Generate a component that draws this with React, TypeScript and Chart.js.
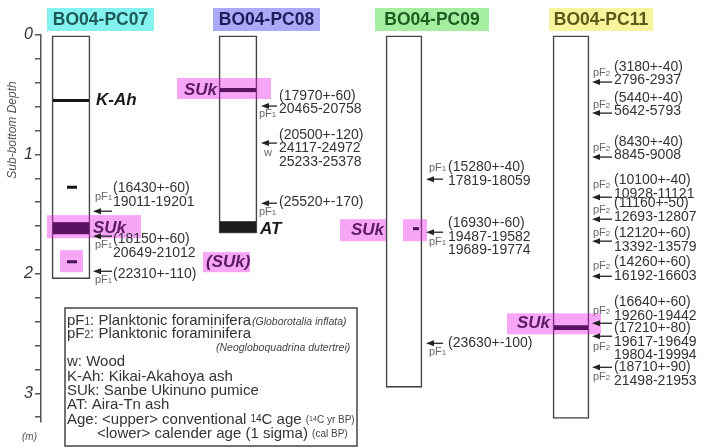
import React, { useEffect, useRef } from 'react';
import { Chart, registerables } from 'chart.js';

Chart.register(...registerables);

// ---------------- DATA ----------------
const coreNames = ['BO04-PC07', 'BO04-PC08', 'BO04-PC09', 'BO04-PC11'];
const coreBottomDepth = [2.04, 1.66, 2.95, 3.21];

const depthTickValues = [0, 0.2, 0.4, 0.6, 0.8, 1, 1.2, 1.4, 1.6, 1.8, 2, 2.2, 2.4, 2.6, 2.8, 3, 3.2];
const labelledDepths = [0, 1, 2, 3];
const depthLabels = ['0', '1', '2', '3'];

// tephra layers / marker dashes
const layerCore = [0, 0, 0, 0, 1, 1, 2, 3];
const layerTop = [0.536, 1.262, 1.567, 1.886, 0.444, 1.559, 1.609, 2.43];
const layerBottom = [0.561, 1.287, 1.668, 1.911, 0.478, 1.651, 1.634, 2.47];
const layerName = ['K-Ah', '', 'SUk', '', 'SUk', 'AT', '', 'SUk'];

// dated samples
const sampleCore = [0, 0, 0, 1, 1, 1, 2, 2, 2, 3, 3, 3, 3, 3, 3, 3, 3, 3, 3];
const sampleDepth = [1.475, 1.684, 1.978, 0.595, 0.905, 1.408, 1.207, 1.651, 2.581, 0.394, 0.654, 1.022, 1.358, 1.542, 1.726, 2.02, 2.413, 2.522, 2.782];
const sampleMaterial = ['pF1', 'pF1', 'pF1', 'pF1', 'w', 'pF1', 'pF1', 'pF1', 'pF1', 'pF2', 'pF2', 'pF2', 'pF2', 'pF2', 'pF2', 'pF2', 'pF2', 'pF2', 'pF2'];
const sampleC14Age = ['(16430+-60)', '(18150+-60)', '(22310+-110)', '(17970+-60)', '(20500+-120)', '(25520+-170)', '(15280+-40)', '(16930+-60)', '(23630+-100)', '(3180+-40)', '(5440+-40)', '(8430+-40)', '(10100+-40)', '(11160+-50)', '(12120+-60)', '(14260+-60)', '(16640+-60)', '(17210+-80)', '(18710+-90)'];
const sampleCalAge = [
  ['19011-19201'], ['20649-21012'], [],
  ['20465-20758'], ['24117-24972', '25233-25378'], [],
  ['17819-18059'], ['19487-19582', '19689-19774'], [],
  ['2796-2937'], ['5642-5793'], ['8845-9008'], ['10928-11121'], ['12693-12807'], ['13392-13579'], ['16192-16603'], ['19260-19442'], ['19617-19649', '19804-19994'], ['21498-21953'],
];

// ---------------- LAYOUT / STYLE ----------------
const FONT = '"Liberation Sans", Arial, sans-serif';
const coreCenterX = [71, 238, 404, 571];
const coreWidth = [38, 38, 36, 36];
const titleBox = [[47, 154], [213, 320], [375, 489], [549, 653]];
const titleFill = ['#84f3ef', '#aaaaf7', '#a4efa2', '#f6f59e'];
const titleInk = ['#1d5a5a', '#1d1d5c', '#1f5c1f', '#5a5a16'];

const layerSpan: (number[] | null)[] = [null, [67, 77], null, [67, 77], null, null, [413, 419], null];
const layerColor = ['#151515', '#151515', '#5a1262', '#4a1050', '#5a1262', '#1c1c1c', '#4a1050', '#5a1262'];
const layerLabelPos: (number[] | null)[] = [[96, 0, 0], null, [93, 0, 0], null, [217, 0, 1], [260, 3, 0], null, [550, -4, 1]];
const layerLabelInk = ['#1a1a1a', '', '#5a1a66', '', '#5a1a66', '#1a1a1a', '', '#5a1a66'];

const highlightRects = [
  [47, 141, 1.508, 1.701], [60, 83, 1.802, 1.986], [203, 250, 1.818, 1.986],
  [177, 271, 0.36, 0.536], [340, 386, 1.542, 1.726], [403, 427, 1.542, 1.726], [507, 601, 2.33, 2.506],
];
const extraLabels = [{ text: '(SUk)', x: 206, d: 1.902 }, { text: 'SUk', x: 351, d: 1.634 }];

const arrowHead = [93, 261, 426, 592];
const arrowTail = [112, 277, 443, 612];
const textX = [113, 279, 448, 614];
const matX = [95, 259, 429, 593];
const textDy = [-23, 3, 3, -10, -8, -1, -12, -9, 0, -15, -15, -15, -17, -16, -8, -14, -21, -8, 0];
const matDy = [-14, 9, 9, 8, 10, 9, -11, 10, 9, -9, -8, -9, -12, -9, -8, -10, -12, 11, 10];
const LINE = 13.5;

const diagramPlugin = {
  id: 'coreDiagram',
  afterDatasetsDraw(chart: any) {
    const ctx = chart.ctx as CanvasRenderingContext2D;
    const xs = chart.scales.x;
    const ys = chart.scales.y;
    const X = (v: number) => xs.getPixelForValue(v);
    const Y = (d: number) => ys.getPixelForValue(d);
    ctx.save();
    ctx.textBaseline = 'middle';

    // pink highlights
    ctx.fillStyle = 'rgba(235,20,235,0.38)';
    highlightRects.forEach(([x0, x1, d0, d1]) => {
      ctx.fillRect(X(x0), Y(d0), X(x1) - X(x0), Y(d1) - Y(d0));
    });

    // layers
    layerCore.forEach((c, i) => {
      const span = layerSpan[i];
      const x0 = span ? span[0] : coreCenterX[c] - coreWidth[c] / 2 + 1;
      const x1 = span ? span[1] : coreCenterX[c] + coreWidth[c] / 2 - 1;
      ctx.fillStyle = layerColor[i];
      const y0 = Y(layerTop[i]);
      const y1 = Y(layerBottom[i]);
      ctx.fillRect(X(x0), y0, X(x1) - X(x0), Math.max(2.5, y1 - y0));
      const lp = layerLabelPos[i];
      if (lp && layerName[i]) {
        ctx.font = `italic bold 17px ${FONT}`;
        ctx.fillStyle = layerLabelInk[i];
        ctx.textAlign = lp[2] ? 'right' : 'left';
        ctx.fillText(layerName[i], X(lp[0]), (y0 + y1) / 2 + lp[1]);
      }
    });
    ctx.textAlign = 'left';
    extraLabels.forEach((l) => {
      ctx.font = `italic bold 17px ${FONT}`;
      ctx.fillStyle = '#5a1a66';
      ctx.fillText(l.text, X(l.x), Y(l.d));
    });

    // samples
    sampleCore.forEach((c, i) => {
      const y = Y(sampleDepth[i]);
      const hx = X(arrowHead[c]);
      const tx = X(arrowTail[c]);
      ctx.strokeStyle = '#222';
      ctx.fillStyle = '#222';
      ctx.lineWidth = 1.3;
      ctx.beginPath();
      ctx.moveTo(hx + 5, y);
      ctx.lineTo(tx, y);
      ctx.stroke();
      ctx.beginPath();
      ctx.moveTo(hx, y);
      ctx.lineTo(hx + 8, y - 3);
      ctx.lineTo(hx + 8, y + 3);
      ctx.closePath();
      ctx.fill();

      // texts
      ctx.fillStyle = '#333';
      ctx.font = `14px ${FONT}`;
      const lines = [sampleC14Age[i], ...sampleCalAge[i]];
      lines.forEach((t, k) => {
        ctx.fillText(t, X(textX[c]), y + textDy[i] + k * LINE);
      });
      // material
      const m = sampleMaterial[i];
      ctx.fillStyle = '#666';
      const my = y + matDy[i];
      if (m === 'w') {
        ctx.font = `11px ${FONT}`;
        ctx.fillText('w', X(matX[c] + 5), my);
      } else {
        ctx.font = `11px ${FONT}`;
        ctx.fillText('pF', X(matX[c]), my);
        const w = ctx.measureText('pF').width;
        ctx.font = `8px ${FONT}`;
        ctx.fillText(m.slice(2), X(matX[c]) + w, my + 1);
      }
    });
    ctx.restore();
  },
  afterDraw(chart: any) {
    const ctx = chart.ctx as CanvasRenderingContext2D;
    const xs = chart.scales.x;
    const X = (v: number) => xs.getPixelForValue(v);
    ctx.save();
    ctx.textBaseline = 'middle';
    // core titles
    coreNames.forEach((n, i) => {
      const [a, b] = titleBox[i];
      ctx.fillStyle = titleFill[i];
      ctx.fillRect(X(a), 8, X(b) - X(a), 23);
      ctx.fillStyle = titleInk[i];
      ctx.font = `bold 17.5px ${FONT}`;
      ctx.textAlign = 'center';
      ctx.fillText(n, (X(a) + X(b)) / 2, 20);
    });
    ctx.textAlign = 'left';

    // axis title
    ctx.save();
    ctx.translate(13, 130);
    ctx.rotate(-Math.PI / 2);
    ctx.textAlign = 'center';
    ctx.fillStyle = '#555';
    ctx.font = `italic 12px ${FONT}`;
    ctx.fillText('Sub-bottom Depth', 0, 0);
    ctx.restore();
    ctx.fillStyle = '#555';
    ctx.font = `italic 10px ${FONT}`;
    ctx.textAlign = 'left';
    ctx.fillText('(m)', 22, 437);

    // legend box
    ctx.strokeStyle = '#444';
    ctx.lineWidth = 1.5;
    ctx.strokeRect(65, 308, 292, 138);
    const big = `15px ${FONT}`;
    const sub = `10px ${FONT}`;
    const small = `italic 10.5px ${FONT}`;
    const rich = (x: number, y: number, segs: [string, string, string?, number?][]) => {
      let cx = x;
      segs.forEach(([t, f, col, dy]) => {
        ctx.font = f;
        ctx.fillStyle = col || '#333';
        ctx.fillText(t, cx, y + (dy || 0));
        cx += ctx.measureText(t).width;
      });
    };
    rich(67, 321, [['pF', big], ['1', sub, undefined, 1], [': Planktonic foraminifera', big]]);
    rich(252, 322, [['(Globorotalia inflata)', small, '#444']]);
    rich(67, 334, [['pF', big], ['2', sub, undefined, 1], [': Planktonic foraminifera', big]]);
    rich(216, 348, [['(Neogloboquadrina dutertrei)', small, '#444']]);
    rich(67, 362, [['w: Wood', big]]);
    rich(67, 377, [['K-Ah: Kikai-Akahoya ash', big]]);
    rich(67, 391, [['SUk: Sanbe Ukinuno pumice', big]]);
    rich(67, 405, [['AT: Aira-Tn ash', big]]);
    rich(67, 420, [['Age: <upper> conventional ', big], ['14', sub, undefined, -1], ['C age ', big], ['(', `10px ${FONT}`, '#444'], ['14', `7px ${FONT}`, '#444', -1], ['C yr BP)', `10px ${FONT}`, '#444']]);
    rich(97, 434, [['<lower> calender age (1 sigma) ', big], ['(cal BP)', `10px ${FONT}`, '#444']]);
    ctx.restore();
  },
};

export default function App() {
  const ref = useRef<HTMLCanvasElement | null>(null);
  useEffect(() => {
    if (!ref.current) return;
    const chart = new Chart(ref.current, {
      type: 'bar',
      data: {
        datasets: [
          {
            data: [0, 1].map((i) => ({ x: coreCenterX[i], y: [0, coreBottomDepth[i]] })) as any,
            barThickness: 38,
            grouped: false,
            backgroundColor: '#ffffff',
            borderColor: '#444444',
            borderWidth: 1.6,
            borderSkipped: false,
          } as any,
          {
            data: [2, 3].map((i) => ({ x: coreCenterX[i], y: [0, coreBottomDepth[i]] })) as any,
            barThickness: 36,
            grouped: false,
            backgroundColor: '#ffffff',
            borderColor: '#444444',
            borderWidth: 1.6,
            borderSkipped: false,
          } as any,
        ],
      },
      options: {
        responsive: false,
        animation: false,
        devicePixelRatio: 1,
        layout: { padding: { top: 35, bottom: 26, left: 0, right: 0 } },
        plugins: { legend: { display: false }, tooltip: { enabled: false } },
        scales: {
          x: { type: 'linear', display: false, min: 41, max: 721, offset: false } as any,
          y: {
            type: 'linear',
            reverse: true,
            min: 0,
            max: 3.24,
            afterFit: (s: any) => { s.width = 41; },
            afterBuildTicks: (s: any) => { s.ticks = depthTickValues.map((v) => ({ value: v })); },
            ticks: {
              autoSkip: false,
              padding: 2,
              color: '#333',
              font: { family: FONT, size: 16, style: 'italic' },
              callback: (v: any) => {
                const k = labelledDepths.findIndex((d) => Math.abs(d - Number(v)) < 1e-6);
                return k >= 0 ? depthLabels[k] : '';
              },
            },
            grid: { drawOnChartArea: false, drawTicks: true, tickLength: 6, color: '#555', lineWidth: 1.5 },
            border: { display: true, color: '#555', width: 1.5 },
          } as any,
        },
      },
      plugins: [diagramPlugin],
    });
    return () => chart.destroy();
  }, []);
  return (
    <div style={{ position: 'absolute', left: 0, top: 0, width: 721, height: 448, background: '#fff' }}>
      <canvas ref={ref} width={721} height={448} style={{ display: 'block' }} />
    </div>
  );
}
